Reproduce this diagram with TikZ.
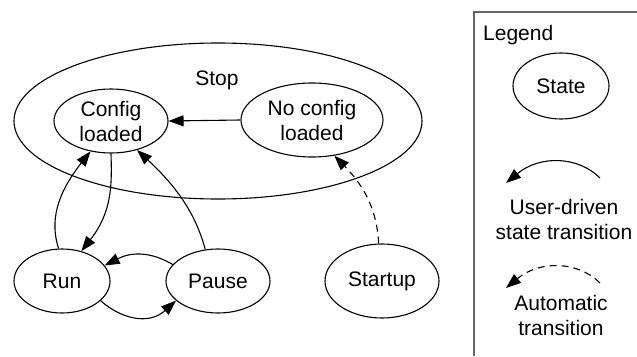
\documentclass[tikz,border=0pt]{standalone}
\usepackage{fontspec}
\setmainfont{Liberation Sans}
\usetikzlibrary{shapes.geometric,arrows.meta}

\tikzset{
  txt/.style={font=\fontsize{21}{25}\selectfont, inner sep=0pt, align=center},
  stnode/.style={ellipse, draw, line width=1.1pt, txt},
  userarr/.style={line width=1.1pt, -{Triangle[length=15pt,width=11pt]}},
  autoarr/.style={userarr, dash pattern=on 7pt off 5pt},
  legendframe/.style={draw=black!60, line width=1.6pt}
}

\begin{document}
\begin{tikzpicture}[x=1pt,y=-1pt]
  \useasboundingbox (0,0) rectangle (637,356);

  % outer "Stop" superstate
  \node[stnode, minimum width=408pt, minimum height=156pt] (stop) at (218,121) {};
  \node[txt, anchor=base] (stoplbl) at (217,85) {Stop};

  % states
  \node[stnode, minimum width=114pt, minimum height=64pt] (cfg) at (111,121) {Config\\loaded};
  \node[stnode, minimum width=142pt, minimum height=74pt] (nocfg) at (312,120) {No config\\loaded};
  \node[stnode, minimum width=96pt, minimum height=64pt] (run) at (62,281) {Run};
  \node[stnode, minimum width=104pt, minimum height=64pt] (pause) at (218,281) {Pause};
  \node[stnode, minimum width=114pt, minimum height=74pt] (startup) at (382,281) {Startup};

  % transitions
  \draw[userarr] (nocfg.west) -- (cfg.east);
  \draw[userarr] (run.96) .. controls (50,222) and (56,195) .. (cfg.236);
  \draw[userarr] (cfg.270) .. controls (112,185) and (112,212) .. (run.57);
  \draw[userarr] (pause.112) .. controls (196,215) and (178,188) .. (cfg.312);
  \draw[userarr] (pause.160) .. controls (155,254) and (135,250) .. (run.20);
  \draw[userarr] (run.333) .. controls (120,318) and (148,326) .. (pause.205);
  \draw[autoarr] (startup.95) .. controls (377,212) and (366,188) .. (nocfg.302);

  % legend
  \draw[legendframe] (637,12) -- (474,12) -- (474,356);
  \node[txt, anchor=base west] (legendttl) at (483,40) {Legend};
  \node[stnode, minimum width=96pt, minimum height=66pt] (legstate) at (561,86) {State};

  \coordinate (u1) at (600,178);
  \coordinate (u2) at (506,183);
  \draw[userarr] (u1) .. controls (578,156) and (540,155) .. (u2);
  \node[txt, anchor=base] (usertxt) at (564,239) {User-driven\\state transition};

  \coordinate (a1) at (600,283);
  \coordinate (a2) at (506,288);
  \draw[autoarr] (a1) .. controls (578,261) and (540,260) .. (a2);
  \node[txt, anchor=base] (autotxt) at (561,335) {Automatic\\transition};
\end{tikzpicture}
\end{document}
